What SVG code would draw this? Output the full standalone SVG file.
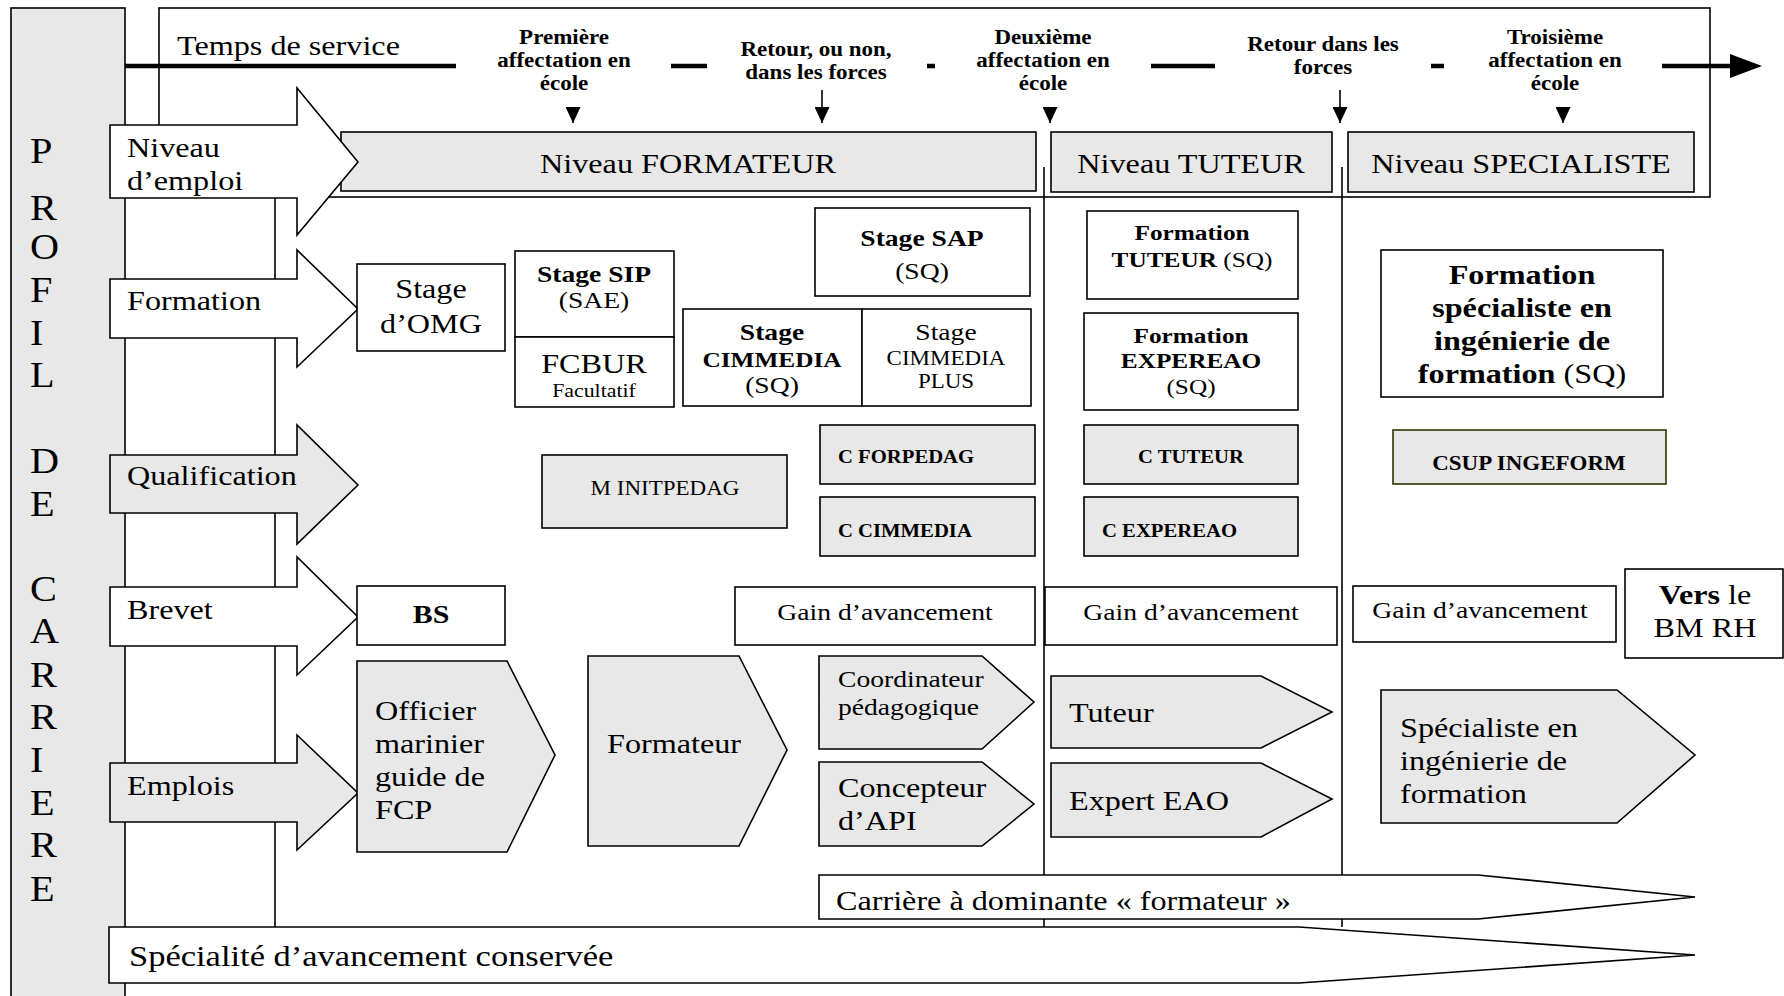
<svg xmlns="http://www.w3.org/2000/svg" width="1784" height="996" viewBox="0 0 1784 996">
<style>
.box{fill:#fff;stroke:#000;stroke-width:1.6}
.g{fill:#e8e8e8;stroke:#000;stroke-width:1.6}
.ln{stroke:#000;stroke-width:1.6;fill:none}
.tl{stroke:#000;stroke-width:4.5;fill:none}
text{font-family:"Liberation Serif","Times New Roman",serif;fill:#000;font-size:28px}
.b{font-weight:bold}
.m{text-anchor:middle}
.f18{font-size:18px}.f19{font-size:19px}.f20{font-size:20px}.f22{font-size:22px}.f24{font-size:24px}.f26{font-size:26px}.f30{font-size:30px}.f35{font-size:35px}
.n{font-weight:normal}
</style>
<defs>
<marker id="down" viewBox="0 0 15 16" refX="7.5" refY="16" markerWidth="15" markerHeight="16" markerUnits="userSpaceOnUse" orient="0">
<path d="M0,0 L15,0 L7.5,16 z" fill="#000"/>
</marker>
<marker id="big" viewBox="0 0 32 24" refX="10" refY="12" markerWidth="32" markerHeight="24" markerUnits="userSpaceOnUse" orient="auto">
<path d="M0,0 L32,12 L0,24 z" fill="#000"/>
</marker>
</defs>
<rect x="0" y="0" width="1784" height="996" fill="#fff"/>

<g id="frame">
<rect x="11" y="8" width="114" height="1000" class="g"/>
<rect x="159" y="8" width="1551" height="189" class="box"/>
<text class="f35" transform="translate(30 0) scale(1.15 1)"><tspan x="0" y="163">P</tspan><tspan x="0" y="220">R</tspan><tspan x="0" y="259">O</tspan><tspan x="0" y="302">F</tspan><tspan x="0" y="345">I</tspan><tspan x="0" y="387">L</tspan><tspan x="0" y="473">D</tspan><tspan x="0" y="516">E</tspan><tspan x="0" y="601">C</tspan><tspan x="0" y="643">A</tspan><tspan x="0" y="687">R</tspan><tspan x="0" y="729">R</tspan><tspan x="0" y="772">I</tspan><tspan x="0" y="815">E</tspan><tspan x="0" y="857">R</tspan><tspan x="0" y="901">E</tspan></text>
</g>

<g id="grid">
<line x1="275" y1="197" x2="275" y2="927" class="ln"/>
<line x1="1044" y1="167" x2="1044" y2="927" class="ln"/>
<line x1="1342" y1="167" x2="1342" y2="927" class="ln"/>
</g>

<g id="connectors">
<line x1="125" y1="66" x2="456" y2="66" class="tl"/>
<line x1="671" y1="66" x2="707" y2="66" class="tl"/>
<line x1="927" y1="66" x2="935" y2="66" class="tl"/>
<line x1="1151" y1="66" x2="1215" y2="66" class="tl"/>
<line x1="1431" y1="66" x2="1444" y2="66" class="tl"/>
<line x1="1662" y1="66" x2="1740" y2="66" class="tl" marker-end="url(#big)"/>
<line x1="573" y1="108" x2="573" y2="123" class="ln" marker-end="url(#down)"/>
<line x1="822" y1="90" x2="822" y2="123" class="ln" marker-end="url(#down)"/>
<line x1="1050" y1="108" x2="1050" y2="123" class="ln" marker-end="url(#down)"/>
<line x1="1340" y1="90" x2="1340" y2="123" class="ln" marker-end="url(#down)"/>
<line x1="1563" y1="108" x2="1563" y2="123" class="ln" marker-end="url(#down)"/>
</g>

<g id="timeline-labels">
<text transform="translate(177 0) scale(1.15 1)" y="55">Temps de service</text>
<text class="b m f20" transform="translate(564 0) scale(1.15 1)"><tspan x="0" y="44">Première</tspan><tspan x="0" y="67">affectation en</tspan><tspan x="0" y="90">école</tspan></text>
<text class="b m f20" transform="translate(816 0) scale(1.15 1)"><tspan x="0" y="56">Retour, ou non,</tspan><tspan x="0" y="79">dans les forces</tspan></text>
<text class="b m f20" transform="translate(1043 0) scale(1.15 1)"><tspan x="0" y="44">Deuxième</tspan><tspan x="0" y="67">affectation en</tspan><tspan x="0" y="90">école</tspan></text>
<text class="b m f20" transform="translate(1323 0) scale(1.15 1)"><tspan x="0" y="51">Retour dans les</tspan><tspan x="0" y="74">forces</tspan></text>
<text class="b m f20" transform="translate(1555 0) scale(1.15 1)"><tspan x="0" y="44">Troisième</tspan><tspan x="0" y="67">affectation en</tspan><tspan x="0" y="90">école</tspan></text>
</g>

<g id="niveau-formateur"><rect x="341" y="132" width="695" height="59" class="g"/><text class="m" transform="translate(688 173) scale(1.15 1)">Niveau FORMATEUR</text></g>
<g id="niveau-tuteur"><rect x="1051" y="132" width="281" height="60" class="g"/><text class="m" transform="translate(1191 173) scale(1.15 1)">Niveau TUTEUR</text></g>
<g id="niveau-specialiste"><rect x="1348" y="132" width="346" height="60" class="g"/><text class="m" transform="translate(1521 173) scale(1.15 1)">Niveau SPECIALISTE</text></g>

<g id="row-niveau"><polygon points="110,125 297,125 297,88 358,162 297,235 297,198 110,198" class="box"/><text transform="translate(127 0) scale(1.15 1)"><tspan x="0" y="157">Niveau</tspan><tspan x="0" y="190">d’emploi</tspan></text></g>
<g id="row-formation"><polygon points="110,279 297,279 297,250 358,309 297,367 297,338 110,338" class="box"/><text transform="translate(127 310) scale(1.15 1)">Formation</text></g>
<g id="row-qualification"><polygon points="110,455 297,455 297,425 358,485 297,544 297,513 110,513" class="g"/><text transform="translate(127 485) scale(1.15 1)">Qualification</text></g>
<g id="row-brevet"><polygon points="110,587 297,587 297,557 358,617 297,675 297,646 110,646" class="box"/><text transform="translate(127 619) scale(1.15 1)">Brevet</text></g>
<g id="row-emplois"><polygon points="110,763 297,763 297,735 358,793 297,850 297,822 110,822" class="g"/><text transform="translate(127 795) scale(1.15 1)">Emplois</text></g>

<g id="stage-omg"><rect x="357" y="264" width="148" height="87" class="box"/><text class="m" transform="translate(431 0) scale(1.15 1)"><tspan x="0" y="298">Stage</tspan><tspan x="0" y="333">d’OMG</tspan></text></g>
<g id="stage-sip"><rect x="515" y="251" width="159" height="86" class="box"/><text class="m f24" transform="translate(594 0) scale(1.15 1)"><tspan x="0" y="282" class="b">Stage SIP</tspan><tspan x="0" y="308">(SAE)</tspan></text></g>
<g id="fcbur"><rect x="515" y="337" width="159" height="70" class="box"/><text class="m" transform="translate(594 373) scale(1.15 1)">FCBUR</text><text class="m f19" transform="translate(594 397) scale(1.15 1)">Facultatif</text></g>
<g id="stage-sap"><rect x="815" y="208" width="215" height="88" class="box"/><text class="m f24" transform="translate(922 0) scale(1.15 1)"><tspan x="0" y="246" class="b">Stage SAP</tspan><tspan x="0" y="279">(SQ)</tspan></text></g>
<g id="stage-cimmedia"><rect x="683" y="309" width="179" height="97" class="box"/><text class="m f24" transform="translate(772 0) scale(1.15 1)"><tspan x="0" y="340" class="b">Stage</tspan><tspan x="0" y="367" class="b f22">CIMMEDIA</tspan><tspan x="0" y="393">(SQ)</tspan></text></g>
<g id="stage-cimmedia-plus"><rect x="862" y="309" width="169" height="97" class="box"/><text class="m f24" transform="translate(946 0) scale(1.15 1)"><tspan x="0" y="340">Stage</tspan><tspan x="0" y="365" class="f20">CIMMEDIA</tspan><tspan x="0" y="388" class="f20">PLUS</tspan></text></g>
<g id="formation-tuteur"><rect x="1087" y="211" width="211" height="88" class="box"/><text class="m f22 b" transform="translate(1192 0) scale(1.15 1)"><tspan x="0" y="240">Formation</tspan><tspan x="0" y="267">TUTEUR <tspan class="n">(SQ)</tspan></tspan></text></g>
<g id="formation-expereao"><rect x="1084" y="313" width="214" height="97" class="box"/><text class="m f22" transform="translate(1191 0) scale(1.15 1)"><tspan x="0" y="343" class="b">Formation</tspan><tspan x="0" y="368" class="b">EXPEREAO</tspan><tspan x="0" y="394">(SQ)</tspan></text></g>
<g id="formation-specialiste"><rect x="1381" y="250" width="282" height="147" class="box"/><text class="m b" transform="translate(1522 0) scale(1.15 1)"><tspan x="0" y="284">Formation</tspan><tspan x="0" y="317">spécialiste en</tspan><tspan x="0" y="350">ingénierie de</tspan><tspan x="0" y="383">formation <tspan class="n">(SQ)</tspan></tspan></text></g>

<g id="m-initpedag"><rect x="542" y="455" width="245" height="73" class="g"/><text class="m f20" transform="translate(665 495) scale(1.15 1)">M INITPEDAG</text></g>
<g id="c-forpedag"><rect x="820" y="425" width="215" height="59" class="g"/><text class="b f18" transform="translate(838 463) scale(1.15 1)">C FORPEDAG</text></g>
<g id="c-cimmedia"><rect x="820" y="497" width="215" height="59" class="g"/><text class="b f18" transform="translate(838 537) scale(1.15 1)">C CIMMEDIA</text></g>
<g id="c-tuteur"><rect x="1084" y="425" width="214" height="59" class="g"/><text class="b f18 m" transform="translate(1191 463) scale(1.15 1)">C TUTEUR</text></g>
<g id="c-expereao"><rect x="1084" y="497" width="214" height="59" class="g"/><text class="b f18" transform="translate(1102 537) scale(1.15 1)">C EXPEREAO</text></g>
<g id="csup-ingeform"><rect x="1393" y="430" width="273" height="54" class="g" style="stroke:#333300"/><text class="b f20 m" transform="translate(1529 470) scale(1.15 1)">CSUP INGEFORM</text></g>

<g id="bs"><rect x="357" y="586" width="148" height="59" class="box"/><text class="b f26 m" transform="translate(431 623) scale(1.15 1)">BS</text></g>
<g id="gain-1"><rect x="735" y="587" width="300" height="58" class="box"/><text class="f24 m" transform="translate(885 620) scale(1.15 1)">Gain d’avancement</text></g>
<g id="gain-2"><rect x="1045" y="587" width="292" height="58" class="box"/><text class="f24 m" transform="translate(1191 620) scale(1.15 1)">Gain d’avancement</text></g>
<g id="gain-3"><rect x="1353" y="586" width="263" height="56" class="box"/><text class="f24 m" transform="translate(1480 618) scale(1.15 1)">Gain d’avancement</text></g>
<g id="vers-bm-rh"><rect x="1625" y="569" width="158" height="89" class="box"/><text class="m" transform="translate(1705 0) scale(1.15 1)"><tspan x="0" y="604"><tspan class="b">Vers</tspan> le</tspan><tspan x="0" y="637">BM RH</tspan></text></g>

<g id="officier"><polygon points="357,661 507,661 555,755 507,852 357,852" class="g"/><text transform="translate(375 0) scale(1.15 1)"><tspan x="0" y="720">Officier</tspan><tspan x="0" y="753">marinier</tspan><tspan x="0" y="786">guide de</tspan><tspan x="0" y="819">FCP</tspan></text></g>
<g id="formateur"><polygon points="588,656 739,656 787,750 739,846 588,846" class="g"/><text transform="translate(607 753) scale(1.15 1)">Formateur</text></g>
<g id="coordinateur"><polygon points="819,656 982,656 1034,702 982,749 819,749" class="g"/><text class="f24" transform="translate(838 0) scale(1.15 1)"><tspan x="0" y="687">Coordinateur</tspan><tspan x="0" y="715">pédagogique</tspan></text></g>
<g id="concepteur"><polygon points="819,762 982,762 1034,804 982,846 819,846" class="g"/><text transform="translate(838 0) scale(1.15 1)"><tspan x="0" y="797">Concepteur</tspan><tspan x="0" y="830">d’API</tspan></text></g>
<g id="tuteur"><polygon points="1051,676 1261,676 1332,712 1261,748 1051,748" class="g"/><text transform="translate(1069 722) scale(1.15 1)">Tuteur</text></g>
<g id="expert-eao"><polygon points="1051,763 1261,763 1332,799 1261,837 1051,837" class="g"/><text transform="translate(1069 810) scale(1.15 1)">Expert EAO</text></g>
<g id="specialiste"><polygon points="1381,690 1617,690 1695,755 1617,823 1381,823" class="g"/><text transform="translate(1400 0) scale(1.15 1)"><tspan x="0" y="737">Spécialiste en</tspan><tspan x="0" y="770">ingénierie de</tspan><tspan x="0" y="803">formation</tspan></text></g>

<g id="carriere"><polygon points="819,875 1478,875 1695,897 1478,919 819,919" class="box"/><text transform="translate(836 910) scale(1.15 1)">Carrière à dominante « formateur »</text></g>
<g id="specialite"><polygon points="109,927 1299,927 1695,955 1299,983 109,983" class="box"/><text class="f30" transform="translate(129 966) scale(1.15 1)">Spécialité d’avancement conservée</text></g>
</svg>
